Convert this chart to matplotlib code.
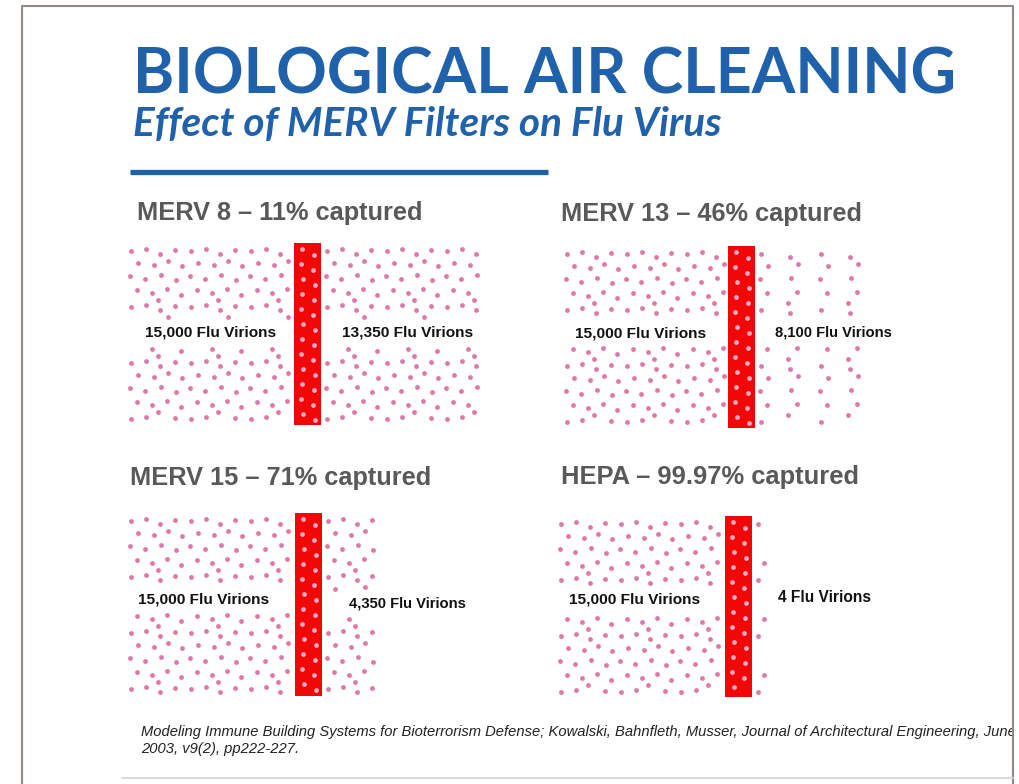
import matplotlib
matplotlib.use("Agg")
import matplotlib.pyplot as plt
from matplotlib.patches import Rectangle

# data
filters = ["MERV 8", "MERV 13", "MERV 15", "HEPA"]
captured = ["11%", "46%", "71%", "99.97%"]
virions_in = [15000, 15000, 15000, 15000]
virions_out = [13350, 8100, 4350, 4]

title = "BIOLOGICAL AIR CLEANING"
subtitle = "Effect of MERV Filters on Flu Virus"
citation = ["Modeling Immune Building Systems for Bioterrorism Defense; Kowalski, Bahnfleth, Musser, "
            "Journal of Architectural Engineering, June",
            "2003, v9(2), pp222-227."]

# panel layout in pixels (header x/y, filter bar x, bar top/bottom, dot field left/right)
head_x = [137, 561, 130, 561]
head_y = [220, 221, 485, 484]
head_w = [286, 302, 301, 297]
bar_x = [294, 728, 295, 725]
bar_top = [243, 246, 513, 516]
bar_bot = [425, 428, 696, 697]
field_left = [127, 563, 127, 557]
field_right = [480, 865, 378, 768]
down_step = [1, 2, 1, 3]
lab_in_x = [211, 641, 204, 635]
lab_in_y = [332, 333, 599, 599]
lab_out_x = [408, 833, 407, 825]
lab_out_y = [332, 332, 604, 597]

# hand placed dot tile (60 x 56 px) and in-filter tile (27 x 45 px)
tile_x = [4, 19, 33, 48, 11, 27, 41, 55, 3, 18, 34, 49, 10, 25, 40, 54, 31]
tile_y = [5, 3, 8, 4, 17, 19, 15, 20, 30, 33, 29, 34, 44, 47, 43, 49, 54]
bar_tile_x = [8, 20, 7, 19, 9, 21]
bar_tile_y = [4, 10, 19, 25, 34, 40]

BLUE = "#1f61ab"
RED = "#f20707"
PINK = "#df78a6"

fig = plt.figure(figsize=(10.2, 7.84), dpi=100)
ax = fig.add_axes([0, 0, 1, 1])
ax.set_xlim(0, 1020)
ax.set_ylim(784, 0)
ax.axis("off")
renderer = fig.canvas.get_renderer()


def fit(x, y, s, width, **kw):
    t = ax.text(x, y, s, **kw)
    w = t.get_window_extent(renderer).width
    t.set_fontsize(t.get_fontsize() * width / w)
    return t


def tiled(x0, x1, y0, y1, tx, ty, tw, th, step=1):
    xs, ys = [], []
    yy = y0
    while yy < y1:
        xx = x0
        while xx < x1:
            for i in range(0, len(tx), step):
                px, py = xx + tx[i], yy + ty[i]
                if px < x1 and py < y1:
                    xs.append(px)
                    ys.append(py)
            xx += tw
        yy += th
    return xs, ys


fit(133, 93, title, 824, fontsize=44, fontweight="bold", family="Lato", color=BLUE)
fit(133, 136, subtitle, 589, fontsize=26, fontweight="bold", fontstyle="italic",
    family="Lato", color=BLUE)
ax.plot([130, 548], [172, 172], color=BLUE, lw=3.8, solid_capstyle="butt")

for k in range(4):
    fit(head_x[k], head_y[k], f"{filters[k]} \u2013 {captured[k]} captured", head_w[k],
        fontsize=19, fontweight="bold", family="Liberation Sans", color="#595959")

    top, bot = bar_top[k] + 3, bar_bot[k] - 3
    # upstream dots
    ux, uy = tiled(field_left[k], bar_x[k] - 2, top, bot, tile_x, tile_y, 60, 56)
    keep = [abs(y - lab_in_y[k]) > 14 for y in uy]
    ux = [x for x, c in zip(ux, keep) if c]
    uy = [y for y, c in zip(uy, keep) if c]
    # downstream dots
    dx, dy = tiled(bar_x[k] + 29, field_right[k], top, bot, tile_x, tile_y, 60, 56,
                   step=down_step[k])
    keep = [abs(y - lab_out_y[k]) > 14 or x > lab_out_x[k] + 70 for x, y in zip(dx, dy)]
    dx = [x for x, c in zip(dx, keep) if c]
    dy = [y for y, c in zip(dy, keep) if c]
    ax.scatter(ux + dx, uy + dy, s=12, color=PINK, linewidths=0, zorder=2)

    ax.add_patch(Rectangle((bar_x[k], bar_top[k]), 27, bar_bot[k] - bar_top[k],
                           facecolor=RED, edgecolor="none", zorder=3))
    bx, by = tiled(bar_x[k], bar_x[k] + 27, bar_top[k] + 2, bar_bot[k] - 4,
                   bar_tile_x, bar_tile_y, 27, 45)
    ax.scatter(bx, by, s=12, color="#f7a9c6", linewidths=0, zorder=4)

    fit(lab_in_x[k], lab_in_y[k], f"{virions_in[k]:,} Flu Virions", 131,
        fontsize=10, fontweight="bold", family="Liberation Sans", color="#111111",
        ha="center", va="center", zorder=5)
    fit(lab_out_x[k], lab_out_y[k], f"{virions_out[k]:,} Flu Virions",
        131 if virions_out[k] > 9999 else (117 if virions_out[k] > 99 else 93),
        fontsize=10, fontweight="bold", family="Liberation Sans", color="#111111",
        ha="center", va="center", zorder=5)

for i, line in enumerate(citation):
    ax.text(141, 736 + 17 * i, line, fontsize=10.6, fontstyle="italic",
            family="Liberation Sans", color="#222222", zorder=5)

# slide frame
ax.add_patch(Rectangle((1014, 0), 10, 784, facecolor="white", edgecolor="none", zorder=6))
ax.plot([22, 22, 1013, 1013], [784, 6, 6, 784], color="#8f8a86", lw=1.5, zorder=7)
ax.plot([122, 1013], [778, 778], color="#d4d4d4", lw=1.2, zorder=7)

fig.savefig("out.png", dpi=100, facecolor="white")
